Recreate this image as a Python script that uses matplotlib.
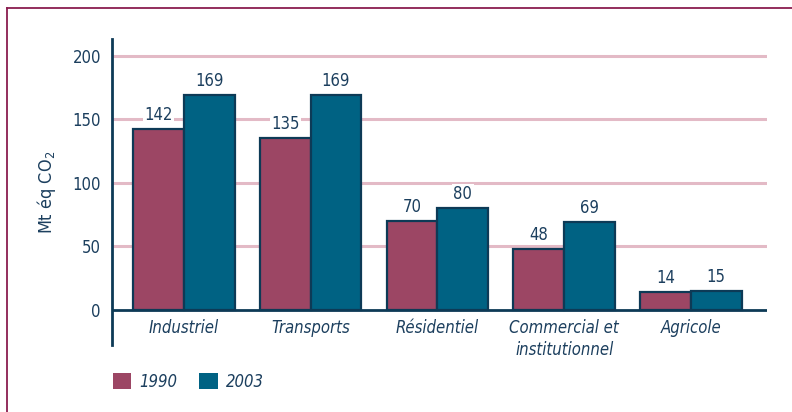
import matplotlib.pyplot as plt
from matplotlib.lines import Line2D
from matplotlib.patches import Patch
import numpy as np

# data
categories = ["Industriel", "Transports", "Résidentiel", "Commercial et\ninstitutionnel", "Agricole"]
v1990 = [142, 135, 70, 48, 14]
v2003 = [169, 169, 80, 69, 15]

c1990 = "#9c4664"
c2003 = "#006283"
edge = "#0d3a56"
txt = "#1c3f5e"
plt.rcParams['font.family'] = ["DejaVu Sans"]
plt.rcParams['font.stretch'] = 'condensed'

fig = plt.figure(figsize=(7.92, 4.12), dpi=100)
ax = fig.add_axes([112/792, 67/412, 655/792, 306/412])

x = np.arange(len(categories))
w = 0.4
b1 = ax.bar(x - w/2, v1990, w, color=c1990, edgecolor=edge, linewidth=1.6, zorder=3)
b2 = ax.bar(x + w/2, v2003, w, color=c2003, edgecolor=edge, linewidth=1.6, zorder=3)

for bars, vals in [(b1, v1990), (b2, v2003)]:
    for r, v in zip(bars, vals):
        ax.text(r.get_x() + r.get_width()/2, v + 4, str(v), ha='center', va='bottom',
                fontsize=12, color=txt, zorder=4,
                bbox=dict(facecolor='white', edgecolor='none', pad=1))

ax.set_xlim(-0.567, 4.6)
ax.set_ylim(-27.6, 213)
ax.set_yticks([0, 50, 100, 150, 200])
for yv in [50, 100, 150, 200]:
    ax.axhline(yv, color="#e3bac6", linewidth=2.2, zorder=1)
ax.axhline(0, color=edge, linewidth=2, zorder=2)

for s in ['top', 'right', 'bottom']:
    ax.spines[s].set_visible(False)
ax.spines['left'].set_color(edge)
ax.spines['left'].set_linewidth(2)
ax.tick_params(axis='y', length=0, pad=8, labelsize=12, labelcolor=txt)
ax.set_xticks([])
for xi, c in zip(x, categories):
    ax.text(xi, -7, c, ha='center', va='top', fontsize=12, style='italic',
            color=txt, linespacing=1.3)

ax.set_ylabel("Mt éq CO$_2$", fontsize=13, color=txt, labelpad=10)

# legend
handles = [Patch(facecolor=c1990, edgecolor='none', label='1990'),
           Patch(facecolor=c2003, edgecolor='none', label='2003')]
leg = fig.legend(handles=handles, loc='upper left', bbox_to_anchor=(98/792, 1 - 358/412),
                 ncol=2, frameon=False, handlelength=1.1, handleheight=1.1,
                 columnspacing=1.3, handletextpad=0.5, prop=dict(style='italic', size=12))
for t in leg.get_texts():
    t.set_color(txt)

# outer frame
fig.add_artist(Line2D([7/792, 1], [1 - 8/412, 1 - 8/412], color="#8a1d4f", linewidth=1.3))
fig.add_artist(Line2D([7/792, 7/792], [0, 1 - 8/412], color="#8a1d4f", linewidth=1.3))

fig.savefig("out.png", dpi=100)
